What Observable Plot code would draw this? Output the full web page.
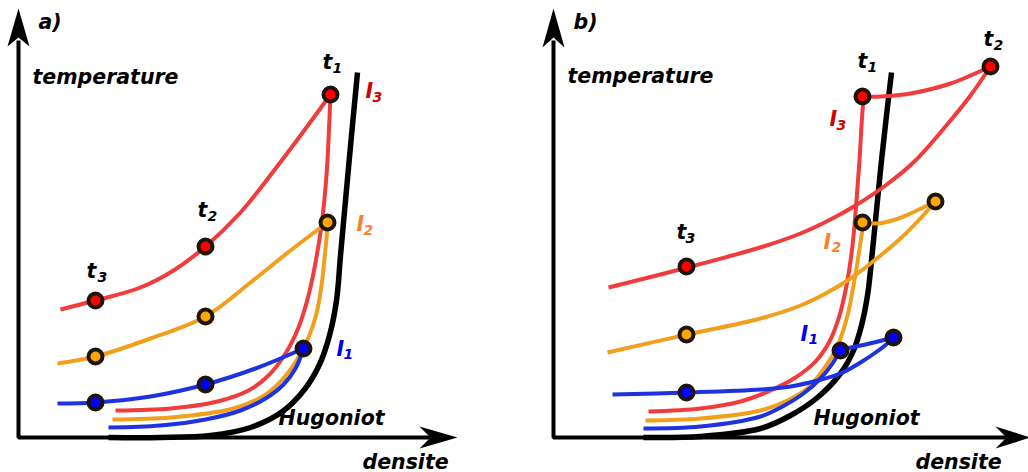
<!DOCTYPE html>
<html><head><meta charset="utf-8">
<script src="https://cdn.jsdelivr.net/npm/d3@7"></script>
<script src="https://cdn.jsdelivr.net/npm/@observablehq/plot@0.6"></script>
<style>html,body{margin:0;padding:0;background:#fff}</style>
</head><body><div id="chart"></div>
<script>
// Schematic chart: coordinates are (densite, temperature) in drawing units (y grows downward)
const W = 1028, H = 472;

// Panel a curves
const hugoniotA = [[108,437],[160,437],[210,435],[250,427],[282,411],[304,389],[319,364],[329,335],[336,300],[340,255],[345,200],[351,135],[357,72]];
const isoI3A = [[115,410],[170,408],[217,401],[248,390],[268,375],[285,353],[298,327],[308,295],[315,262],[321,225],[326,175],[328,140],[330,94]];
const isoI2A = [[112,419],[170,417],[233,408],[262,396],[281,380],[296,360],[308,337],[316,313],[321,285],[324,258],[326,238],[327,222]];
const isoI1A = [[108,427],[160,425],[205,419],[240,410],[265,398],[283,384],[295,368],[303,348]];
const timeRedA = [[60,309],[95,300],[140,287],[173,270],[205,246],[240,212],[285,155],[330,94]];
const timeOrangeA = [[57,363],[95,356],[150,338],[205,316],[250,282],[290,250],[327,222]];
const timeBlueA = [[57,403],[95,402],[150,396],[205,384],[255,368],[303,348]];

// Panel b curves
const hugoniotB = [[643,437],[700,436],[760,428],[790,415],[817,397],[840,373],[853,350],[861,325],[867,295],[871,260],[876,210],[881,160],[886,115],[891,72]];
const isoI3B = [[648,411],[700,408],[740,401],[770,390],[795,377],[815,361],[829,341],[839,315],[846,285],[852,245],[856,200],[859,160],[861,125],[863,97]];
const isoI2B = [[645,420],[700,418],[760,410],[787,400],[808,387],[825,366],[838,343],[847,315],[853,285],[858,255],[861,235],[863,222]];
const isoI1B = [[643,428],[700,426],[760,416],[782,406],[803,393],[820,378],[832,363],[840,349]];
const timeRedB = [[608,287],[687,267],[763,246],[800,233],[830,219],[855,205],[885,185],[915,160],[950,120],[970,95],[990,66]];
const topRedB = [[862,96],[880,96],[910,93],[950,83],[990,66]];
const timeOrangeB = [[607,352],[687,334],[760,318],[800,305],[827,292],[850,278],[870,263],[900,238],[918,220],[935,201]];
const topOrangeB = [[862,222],[877,223],[895,219],[910,213],[935,201]];
const timeBlueB = [[612,394],[687,392],[760,389],[790,386],[817,380],[840,373],[860,362],[878,350],[893,338]];
const topBlueB = [[840,349],[865,344],[893,337]];

// Axes
const axesA = [[18,40],[18,437],[430,437]];
const axesB = [[553,40],[553,437],[1006,437]];
const headsA = [[[18,8],[29,46],[18,37],[7,46],[18,8]], [[457,437],[419,426],[430,437],[419,448],[457,437]]];
const headsB = [[[553,8],[564,47],[553,37],[542,47],[553,8]], [[1030,437],[995,426],[1006,437],[995,448],[1030,437]]];

// Points [x, y, fill]
const pointsA = [[330,94,"#ff0000"],[205,246,"#ff0000"],[95,300,"#ff0000"],
                 [327,222,"#ffa500"],[205,316,"#ffa500"],[95,356,"#ffa500"],
                 [303,348,"#0000ff"],[205,384,"#0000ff"],[95,402,"#0000ff"]];
const pointsB = [[862,96,"#ff0000"],[990,66,"#ff0000"],[686,266,"#ff0000"],
                 [862,222,"#ffa500"],[935,201,"#ffa500"],[686,334,"#ffa500"],
                 [840,350,"#0000ff"],[893,337,"#0000ff"],[686,392,"#0000ff"]];

// Labels [text, x, baseline y, colour]
const mainLabels = [["a)",38,28,"#000"],["b)",573,28,"#000"],
  ["temperature",32,83,"#000"],["temperature",567,82,"#000"],
  ["densite",362,468,"#000"],["densite",915,468,"#000"],
  ["Hugoniot",278,424,"#000"],["Hugoniot",813,424,"#000"],
  ["t",322,68,"#000"],["t",197,216,"#000"],["t",86,277,"#000"],
  ["t",857,67,"#000"],["t",983,45,"#000"],["t",676,238,"#000"],
  ["I",365,97,"#d40000"],["I",356,230,"#ff7f2a"],["I",336,355,"#0000ee"],
  ["I",829,125,"#d40000"],["I",823,248,"#ff7f2a"],["I",800,340,"#0000ee"]];
const subLabels = [["1",332,72,"#000"],["2",207,220,"#000"],["3",97,281,"#000"],
  ["1",867,71,"#000"],["2",993,49,"#000"],["3",685,242,"#000"],
  ["3",372,101,"#d40000"],["2",363,234,"#ff7f2a"],["1",343,358,"#0000ee"],
  ["3",836,129,"#d40000"],["2",831,251,"#ff7f2a"],["1",808,343,"#0000ee"]];

const RED = "#f03c3c", ORANGE = "#f0a01c", BLUE = "#1d32e0";
const px = d => d[0], py = d => d[1];
const curve = (pts, stroke, w = 4) => Plot.line(pts, {x: px, y: py, stroke, strokeWidth: w, curve: "catmull-rom", strokeLinecap: "butt"});
const font = {fontFamily: "DejaVu Sans", fontWeight: "bold", fontStyle: "italic", textAnchor: "start", lineAnchor: "bottom"};

const chart = Plot.plot({
  width: W, height: H, margin: 0,
  x: {domain: [0, W], axis: null},
  y: {domain: [0, H], reverse: true, axis: null},
  color: {type: "identity"},
  marks: [
    Plot.line(axesA, {x: px, y: py, stroke: "#000", strokeWidth: 4, strokeLinejoin: "miter", strokeLinecap: "butt"}),
    Plot.line(axesB, {x: px, y: py, stroke: "#000", strokeWidth: 4, strokeLinejoin: "miter", strokeLinecap: "butt"}),
    ...headsA.concat(headsB).map(h => Plot.line(h, {x: px, y: py, fill: "#000", stroke: "none", curve: "linear-closed"})),
    curve(hugoniotA, "#000", 5.5),
    curve(hugoniotB, "#000", 5.5),
    curve(isoI3A, RED), curve(isoI2A, ORANGE), curve(isoI1A, BLUE),
    curve(isoI3B, RED), curve(isoI2B, ORANGE), curve(isoI1B, BLUE),
    curve(timeRedA, RED), curve(timeOrangeA, ORANGE), curve(timeBlueA, BLUE),
    curve(timeRedB, RED), curve(timeOrangeB, ORANGE), curve(timeBlueB, BLUE),
    curve(topRedB, RED), curve(topOrangeB, ORANGE), curve(topBlueB, BLUE),
    Plot.dot(pointsA.concat(pointsB), {x: px, y: py, r: 7, fill: d => d[2], stroke: "#1e140a", strokeWidth: 4}),
    Plot.text(mainLabels, {text: d => d[0], fill: d => d[3], fontSize: 20.5, ...font, x: d => d[1], y: d => d[2]}),
    Plot.text(subLabels, {text: d => d[0], fill: d => d[3], fontSize: 14, ...font, x: d => d[1], y: d => d[2]})
  ]
});
document.getElementById("chart").appendChild(chart);
</script>
</body></html>
